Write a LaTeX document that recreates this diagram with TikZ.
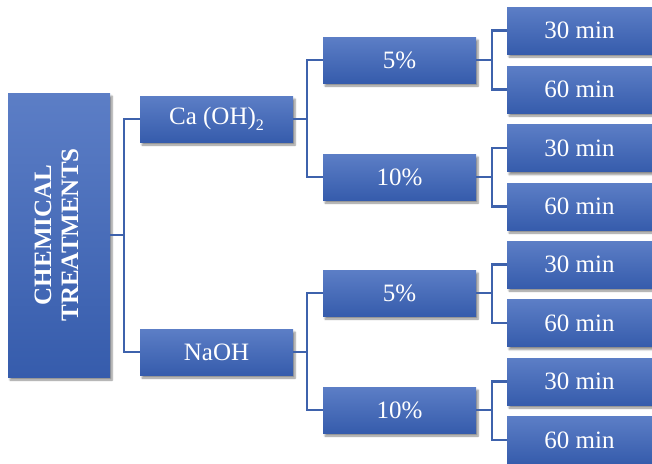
\documentclass[tikz,border=0pt]{standalone}
\usepackage{fontspec}
\setmainfont{Liberation Serif}
\usetikzlibrary{shadows.blur}
\definecolor{boxtop}{RGB}{92,126,198}
\definecolor{boxbot}{RGB}{54,92,172}
\definecolor{linkcol}{RGB}{62,98,172}
\newcommand{\lowsub}[1]{\raisebox{-5.5pt}{\fontsize{16}{16}\selectfont #1}}
\tikzset{
  treebox/.style={rectangle, inner sep=0pt, top color=boxtop, bottom color=boxbot,
    text=white, font=\fontsize{25}{27}\selectfont,
    blur shadow={shadow xshift=2pt, shadow yshift=-3pt, shadow blur steps=6, shadow opacity=45}},
  link/.style={draw=linkcol, line width=2.3pt}
}
\begin{document}
\begin{tikzpicture}[x=1pt, y=-1pt]
\useasboundingbox (0,0) rectangle (652,463);
% root
\node[treebox, minimum width=102pt, minimum height=284pt] (root) at (59,235)
  {\rotatebox{90}{\fontsize{25}{28}\selectfont\bfseries\begin{tabular}{@{}c@{}}CHEMICAL\\[-1pt]TREATMENTS\end{tabular}}};
% agents
\node[treebox, minimum width=153pt, minimum height=46pt] (ca) at (216.5,119) {Ca (OH)\lowsub{2}};
\node[treebox, minimum width=153pt, minimum height=46pt] (na) at (216.5,352) {NaOH};
% concentrations
\node[treebox, minimum width=153pt, minimum height=46pt] (ca5)  at (399.5,60)  {5\%};
\node[treebox, minimum width=153pt, minimum height=46pt] (ca10) at (399.5,177) {10\%};
\node[treebox, minimum width=153pt, minimum height=46pt] (na5)  at (399.5,293) {5\%};
\node[treebox, minimum width=153pt, minimum height=46pt] (na10) at (399.5,410) {10\%};
% durations
\foreach \n/\y/\t in {t1/30.5/30, t2/89.5/60, t3/148/30, t4/206.5/60,
                      t5/264.5/30, t6/323/60, t7/381.5/30, t8/440/60}
  \node[treebox, minimum width=145pt, minimum height=47pt] (\n) at (579.5,\y) {\t\ min};
% connectors
\draw[link] (root.east) -- (124,235) |- (ca.west);
\draw[link] (124,235) |- (na.west);
\draw[link] (ca.east) -- (307,119) |- (ca5.west);
\draw[link] (307,119) |- (ca10.west);
\draw[link] (na.east) -- (307,352) |- (na5.west);
\draw[link] (307,352) |- (na10.west);
\foreach \p/\a/\b in {ca5/t1/t2, ca10/t3/t4, na5/t5/t6, na10/t7/t8}{
  \draw[link] (\p.east) -- ++(16,0) coordinate (j) |- (\a.west);
  \draw[link] (j) |- (\b.west);
}
\end{tikzpicture}
\end{document}
